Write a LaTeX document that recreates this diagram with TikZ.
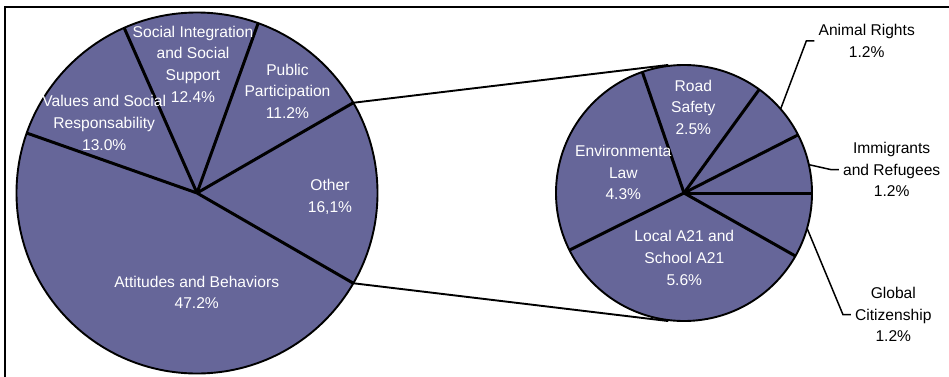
\documentclass[tikz,border=0pt]{standalone}
\usepackage{fontspec}
\setmainfont{Liberation Sans}
\usepackage{xcolor}
\usepackage{tikz}
\usetikzlibrary{calc}
\definecolor{piefill}{HTML}{666699}

\begin{document}
\begin{tikzpicture}[x=1pt, y=1pt,
  every node/.style={font=\fontsize{15.6}{21.7}\selectfont, align=center},
  inlabel/.style={text=white, inner sep=1pt},
  outlabel/.style={text=black, inner sep=4pt},
  rim/.style={black, line width=1.9pt},
  spoke/.style={black, line width=3pt},
  leader/.style={black, line width=1.5pt},
  zoomline/.style={black, line width=1.9pt}]
  \useasboundingbox (0,0) rectangle (949,376);
  \draw[black, line width=2pt] (5,-2) -- (5,368.7) -- (951,368.7);
  % main pie
  \coordinate (B) at (197,183);
  \fill[piefill] (B) circle (180.5);
  \draw[spoke] (B) -- ++(160.6:180.5);
  \draw[spoke] (B) -- ++(113.8:180.5);
  \draw[spoke] (B) -- ++(70.2:180.5);
  \draw[spoke] (B) -- ++(30:180.5);
  \draw[spoke] (B) -- ++(-30:180.5);
  \draw[rim] (B) circle (180.5);
  \node[inlabel] (social) at (193,311.8) {Social Integration\\and Social\\Support\\12.4\%};
  \node[inlabel] (public) at (287.5,284.7) {Public\\Participation\\11.2\%};
  \node[inlabel] (values) at (104.2,253.2) {Values and Social\\Responsability\\13.0\%};
  \node[inlabel] (other) at (330,179.5) {Other\\16,1\%};
  \node[inlabel] (attitudes) at (196.7,83.5) {Attitudes and Behaviors\\47.2\%};
  % second pie
  \coordinate (R) at (684,183);
  \fill[piefill] (R) circle (128);
  \draw[spoke] (R) -- ++(0:128);
  \draw[spoke] (R) -- ++(27:128);
  \draw[spoke] (R) -- ++(54:128);
  \draw[spoke] (R) -- ++(109:128);
  \draw[spoke] (R) -- ++(206.5:128);
  \draw[spoke] (R) -- ++(330.5:128);
  \draw[rim] (R) circle (128);
  \node[inlabel] (road) at (693.3,268.8) {Road\\Safety\\2.5\%};
  \node[inlabel] (envlaw) at (623.3,203.5) {Environmenta\\Law\\4.3\%};
  \node[inlabel] (local) at (684.3,118.1) {Local A21 and\\School A21\\5.6\%};
  \node[outlabel] (animal) at (866.7,335.2) {Animal Rights\\1.2\%};
  \node[outlabel] (immigrants) at (891.7,206.4) {Immigrants\\and Refugees\\1.2\%};
  \node[outlabel] (global) at (893.3,61.4) {Global\\Citizenship\\1.2\%};
  % leaders
  \coordinate (ar) at ($(R)+(41:128)$);
  \coordinate (im) at ($(R)+(12.8:128)$);
  \coordinate (gc) at ($(R)+(-16:128)$);
  \draw[leader] (animal.west) -- ++(-8,0) -- (ar);
  \draw[leader] (immigrants.west) -- ++(-8,0) -- (im);
  \draw[leader] (global.west) -- ++(-8,0) -- (gc);
  % connectors between the pies
  \coordinate (btop) at ($(B)+(30:180.5)$);
  \coordinate (bbot) at ($(B)+(-30:180.5)$);
  \coordinate (rtop) at ($(R)+(97:129)$);
  \coordinate (rbot) at ($(R)+(-97:129)$);
  \draw[zoomline] (btop) -- (rtop);
  \draw[zoomline] (bbot) -- (rbot);
\end{tikzpicture}
\end{document}
